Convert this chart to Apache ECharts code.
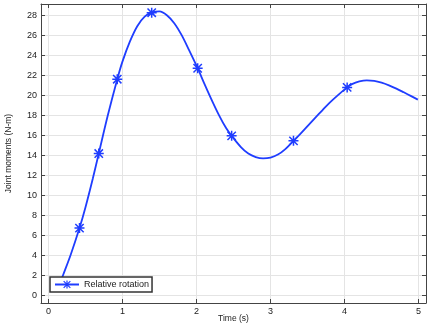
<!DOCTYPE html>
<html>
<head>
<meta charset="utf-8">
<script src="https://cdn.jsdelivr.net/npm/echarts@6/dist/echarts.min.js"></script>
<style>html,body{margin:0;padding:0;background:#fff}#c{width:435px;height:329px}</style>
</head>
<body>
<div id="c"></div>
<script>
// Curve samples (time s, moment N-m)
var curveT = [0.15, 0.2, 0.3, 0.42, 0.5, 0.6, 0.68, 0.8, 0.93, 1.0, 1.1, 1.2, 1.3, 1.395, 1.5, 1.6, 1.7, 1.8, 1.9, 2.016, 2.1, 2.2, 2.3, 2.4, 2.475, 2.6, 2.7, 2.8, 2.9, 3.0, 3.1, 3.2, 3.31, 3.4, 3.5, 3.6, 3.7, 3.8, 3.9, 4.035, 4.1, 4.2, 4.3, 4.4, 4.5, 4.6, 4.7, 4.8, 4.9, 4.99];
var curveY = [1.1, 2.07, 4.05, 6.74, 8.8, 11.7, 14.2, 17.95, 21.64, 23.4, 25.4, 26.95, 27.9, 28.3, 28.43, 28.05, 27.25, 26.05, 24.55, 22.74, 21.3, 19.65, 18.1, 16.75, 15.97, 14.85, 14.2, 13.85, 13.72, 13.8, 14.1, 14.65, 15.47, 16.15, 16.95, 17.75, 18.53, 19.3, 19.98, 20.82, 21.15, 21.42, 21.53, 21.48, 21.3, 21.03, 20.7, 20.33, 19.95, 19.6];
// Samples that carry a marker
var markerT = [0.42, 0.68, 0.93, 1.395, 2.016, 2.475, 3.31, 4.035];
var seriesName = 'Relative rotation';
var xTicks = [0, 1, 2, 3, 4, 5];
var yTicks = [0, 2, 4, 6, 8, 10, 12, 14, 16, 18, 20, 22, 24, 26, 28];

var star = 'path://M8.5 0H11.5V20H8.5Z M0 8.5H20V11.5H0Z M2.7 0.6L19.4 17.3L17.3 19.4L0.6 2.7Z M17.3 0.6L19.4 2.7L2.7 19.4L0.6 17.3Z';
var data = curveT.map(function (t, i) {
  if (markerT.indexOf(t) >= 0) return [t, curveY[i]];
  return { value: [t, curveY[i]], symbol: 'none' };
});

var font = 'Liberation Sans, Arial, sans-serif';
var axCol = '#444';
function xAx(pos, show) {
  return {
    type: 'value', position: pos, min: -0.1, max: 5.1,
    axisLine: { show: true, onZero: false, lineStyle: { color: axCol, width: 1 } },
    axisTick: { show: true, inside: true, length: 4, customValues: xTicks, lineStyle: { color: axCol } },
    axisLabel: { show: show, customValues: xTicks, fontSize: 9, color: '#222', fontFamily: font, margin: 4 },
    splitLine: { show: show, lineStyle: { color: '#e4e4e4', width: 1 } },
    name: show ? 'Time (s)' : '', nameLocation: 'middle', nameGap: 11, nameMoveOverlap: false,
    nameTextStyle: { fontSize: 8.5, color: '#222', fontFamily: font }
  };
}
function yAx(pos, show) {
  return {
    type: 'value', position: pos, min: -0.76, max: 29.17,
    axisLine: { show: true, onZero: false, lineStyle: { color: axCol, width: 1 } },
    axisTick: { show: true, inside: true, length: 4, customValues: yTicks, lineStyle: { color: axCol } },
    axisLabel: { show: show, customValues: yTicks, fontSize: 9, color: '#222', fontFamily: font, margin: 4 },
    splitLine: { show: show, lineStyle: { color: '#e4e4e4', width: 1 } },
    name: show ? 'Joint moments (N-m)' : '', nameLocation: 'middle', nameGap: 28, nameMoveOverlap: false,
    nameTextStyle: { fontSize: 8.5, color: '#222', fontFamily: font }
  };
}

var chart = echarts.init(document.getElementById('c'), null, { renderer: 'canvas' });
chart.setOption({
  animation: false,
  grid: { left: 41, right: 9, top: 4, bottom: 26, containLabel: false, outerBoundsMode: 'none' },
  xAxis: [xAx('bottom', true), xAx('top', false)],
  yAxis: [yAx('left', true), yAx('right', false)],
  legend: {
    left: 50, top: 277, z: 10,
    backgroundColor: '#fff', borderColor: '#333', borderWidth: 1.5,
    padding: [3, 3, 3, 4], itemWidth: 24, itemHeight: 10,
    textStyle: { fontSize: 9, color: '#222', fontFamily: font },
    data: [seriesName]
  },
  series: [{
    name: seriesName, type: 'line', smooth: 0.3,
    xAxisIndex: 0, yAxisIndex: 0,
    symbol: star, symbolSize: 10, showAllSymbol: true,
    lineStyle: { color: '#1f3dff', width: 1.8 },
    itemStyle: { color: '#1f3dff', borderWidth: 0 },
    data: data
  }]
});
</script>
</body>
</html>
